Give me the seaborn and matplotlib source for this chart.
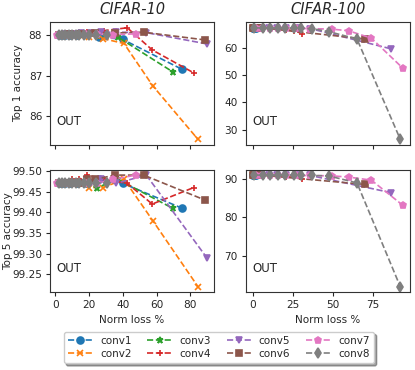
import matplotlib
matplotlib.use('Agg')
import matplotlib.pyplot as plt
import seaborn as sns

# ---- CIFAR-10 : norm loss % vs accuracy, one list per conv layer
c10_x_conv1 = [2, 4, 6, 9, 13, 18, 26, 40, 75]
c10_t1_conv1 = [88.02, 88.02, 88.02, 88.02, 88.02, 88.03, 87.97, 87.90, 87.16]
c10_t5_conv1 = [99.47, 99.47, 99.47, 99.47, 99.47, 99.47, 99.48, 99.47, 99.41]

c10_x_conv2 = [2, 4, 7, 10, 14, 20, 28.5, 40.7, 57.7, 84.5]
c10_t1_conv2 = [88.02, 88.02, 88.02, 88.02, 88.0, 87.97, 87.92, 87.80, 86.75, 85.42]
c10_t5_conv2 = [99.47, 99.47, 99.47, 99.47, 99.47, 99.46, 99.46, 99.48, 99.38, 99.22]

c10_x_conv3 = [2, 4, 7, 10, 14, 19, 25, 37, 69.4]
c10_t1_conv3 = [88.03, 88.03, 88.04, 88.04, 88.05, 88.04, 88.01, 87.96, 87.10]
c10_t5_conv3 = [99.47, 99.47, 99.47, 99.47, 99.47, 99.47, 99.46, 99.48, 99.41]

c10_x_conv4 = [2, 4, 7, 10, 14, 19, 29, 42.6, 57.4, 82]
c10_t1_conv4 = [88.02, 88.03, 88.03, 88.05, 88.06, 88.08, 88.12, 88.19, 87.64, 87.07]
c10_t5_conv4 = [99.47, 99.47, 99.47, 99.48, 99.48, 99.49, 99.48, 99.47, 99.42, 99.46]

c10_x_conv5 = [3, 6, 10, 15, 21, 27, 36, 53.9, 89.7]
c10_t1_conv5 = [88.02, 88.03, 88.03, 88.05, 88.07, 88.08, 88.08, 88.07, 87.79]
c10_t5_conv5 = [99.47, 99.47, 99.47, 99.47, 99.47, 99.48, 99.47, 99.49, 99.29]

c10_x_conv6 = [2, 5, 9, 14, 19, 23.6, 35.5, 52.3, 88.4]
c10_t1_conv6 = [88.02, 88.02, 88.03, 88.03, 88.04, 88.06, 88.06, 88.08, 87.89]
c10_t5_conv6 = [99.47, 99.47, 99.47, 99.47, 99.48, 99.48, 99.49, 99.49, 99.43]

c10_x_conv7 = [1.2, 3, 6, 9, 13, 18, 25, 34, 48]
c10_t1_conv7 = [88.01, 88.01, 88.02, 88.02, 88.02, 88.03, 88.03, 88.02, 88.04]
c10_t5_conv7 = [99.47, 99.47, 99.47, 99.47, 99.47, 99.47, 99.47, 99.48, 99.49]

c10_x_conv8 = [2.3, 4, 6, 8, 10, 12, 14, 17, 20, 24, 30.6]
c10_t1_conv8 = [88.0, 88.0, 88.0, 88.0, 88.0, 88.01, 88.0, 88.0, 88.01, 88.01, 88.02]
c10_t5_conv8 = [99.47, 99.47, 99.47, 99.47, 99.47, 99.47, 99.47, 99.47, 99.47, 99.47, 99.47]

# ---- CIFAR-100
c100_x_conv1 = [0.2, 0.5, 1, 1.5, 2]
c100_t1_conv1 = [67.3, 67.3, 67.3, 67.3, 67.3]
c100_t5_conv1 = [90.9, 90.9, 90.9, 90.9, 90.9]

c100_x_conv2 = [0.2, 0.5, 1, 1.5, 2]
c100_t1_conv2 = [67.3, 67.3, 67.3, 67.3, 67.2]
c100_t5_conv2 = [90.9, 90.9, 90.9, 90.9, 90.9]

c100_x_conv3 = [0.2, 0.5, 1, 1.5, 2.5]
c100_t1_conv3 = [67.3, 67.3, 67.3, 67.2, 67.2]
c100_t5_conv3 = [90.9, 90.9, 90.9, 90.9, 90.9]

c100_x_conv4 = [0.5, 1.5, 3, 6, 10, 15, 21, 26, 30.8]
c100_t1_conv4 = [67.3, 67.3, 67.3, 67.2, 67.2, 67.0, 66.6, 66.2, 65.2]
c100_t5_conv4 = [90.9, 90.9, 90.9, 90.9, 90.8, 90.7, 90.5, 90.3, 90.0]

c100_x_conv5 = [1, 3, 6, 10, 15, 21, 28, 36, 86.4]
c100_t1_conv5 = [67.3, 67.3, 67.3, 67.2, 67.2, 67.1, 67.1, 67.0, 59.6]
c100_t5_conv5 = [90.9, 90.9, 90.9, 90.9, 90.9, 90.9, 90.9, 90.8, 86.4]

c100_x_conv6 = [0.5, 1, 2, 3.5, 5, 70.4]
c100_t1_conv6 = [67.3, 67.3, 67.3, 67.3, 67.3, 63.2]
c100_t5_conv6 = [90.9, 90.9, 90.9, 90.9, 90.9, 88.5]

c100_x_conv7 = [2, 6, 11, 16, 21, 27, 36, 49.6, 60, 74.2, 93.7]
c100_t1_conv7 = [67.3, 67.3, 67.2, 67.2, 67.2, 67.1, 67.0, 66.8, 66.2, 63.5, 52.6]
c100_t5_conv7 = [90.9, 90.9, 90.9, 90.9, 90.9, 90.8, 90.8, 90.7, 90.4, 89.6, 83.2]

c100_x_conv8 = [1, 6.4, 11.1, 15.8, 20.4, 25.6, 30.4, 37.1, 47.5, 65.2, 92.3]
c100_t1_conv8 = [67.3, 67.2, 67.2, 67.2, 67.2, 67.2, 67.1, 67.0, 65.9, 63.2, 26.4]
c100_t5_conv8 = [90.9, 90.9, 90.9, 90.9, 90.9, 90.8, 90.8, 90.8, 90.7, 88.9, 62.2]

layers = ['conv1', 'conv2', 'conv3', 'conv4', 'conv5', 'conv6', 'conv7', 'conv8']
markers = ['o', 'x', '*', '+', 'v', 's', 'p', 'd']
datasets = ['CIFAR-10', 'CIFAR-100']

g = globals()

sns.set_style('ticks')
plt.rcParams['font.family'] = ['DejaVu Sans']
colors = sns.color_palette('tab10', 8)

fig, axs = plt.subplots(2, 2, figsize=(4.15, 3.7), dpi=100, sharex='col')
fig.subplots_adjust(left=0.12, right=0.988, top=0.94, bottom=0.21, wspace=0.19, hspace=0.2)

for col, (prefix, name) in enumerate(zip(['c10', 'c100'], datasets)):
	for row, metric in enumerate(['t1', 't5']):
		ax = axs[row, col]
		for i, layer in enumerate(layers):
			xs = g[f'{prefix}_x_{layer}']
			ys = g[f'{prefix}_{metric}_{layer}']
			sns.lineplot(x=xs, y=ys, ax=ax, color=colors[i], marker=markers[i],
				linestyle='--', linewidth=1.2, markersize=5,
				markeredgecolor=colors[i], markeredgewidth=1.2,
				sort=False, estimator=None, label=layer)
		ax.get_legend().remove()
		ax.text(0.04, 0.19, 'OUT', transform=ax.transAxes, fontsize=8.5, va='center')
		ax.tick_params(labelsize=7.6, length=3, pad=2.5)
		for s in ax.spines.values():
			s.set_color('#333333')
		if row == 0:
			ax.set_title(name, fontsize=10.5, style='italic')
		else:
			ax.set_xlabel('Norm loss %', fontsize=7.5)

axs[0, 0].set_ylabel('Top 1 accuracy', fontsize=7.5)
axs[1, 0].set_ylabel('Top 5 accuracy', fontsize=7.5)
axs[0, 0].yaxis.set_label_coords(-0.16, 0.5)
axs[1, 0].yaxis.set_label_coords(-0.225, 0.5)
axs[0, 0].set_xticks([0, 20, 40, 60, 80])
axs[0, 1].set_xticks([0, 25, 50, 75])
axs[0, 0].set_yticks([86, 87, 88])
axs[1, 0].set_yticks([99.25, 99.30, 99.35, 99.40, 99.45, 99.50])
axs[1, 0].yaxis.set_major_formatter(matplotlib.ticker.FormatStrFormatter('%.2f'))
axs[0, 1].set_yticks([30, 40, 50, 60])
axs[1, 1].set_yticks([70, 80, 90])

handles, labels = axs[0, 0].get_legend_handles_labels()
fig.legend(handles, labels, ncol=4, loc='center', bbox_to_anchor=(0.527, 0.061),
	fontsize=7.5, shadow=True, handlelength=2.4, columnspacing=1.5,
	handletextpad=0.7, borderpad=0.4, labelspacing=0.3)

fig.savefig('out.png', dpi=100)
